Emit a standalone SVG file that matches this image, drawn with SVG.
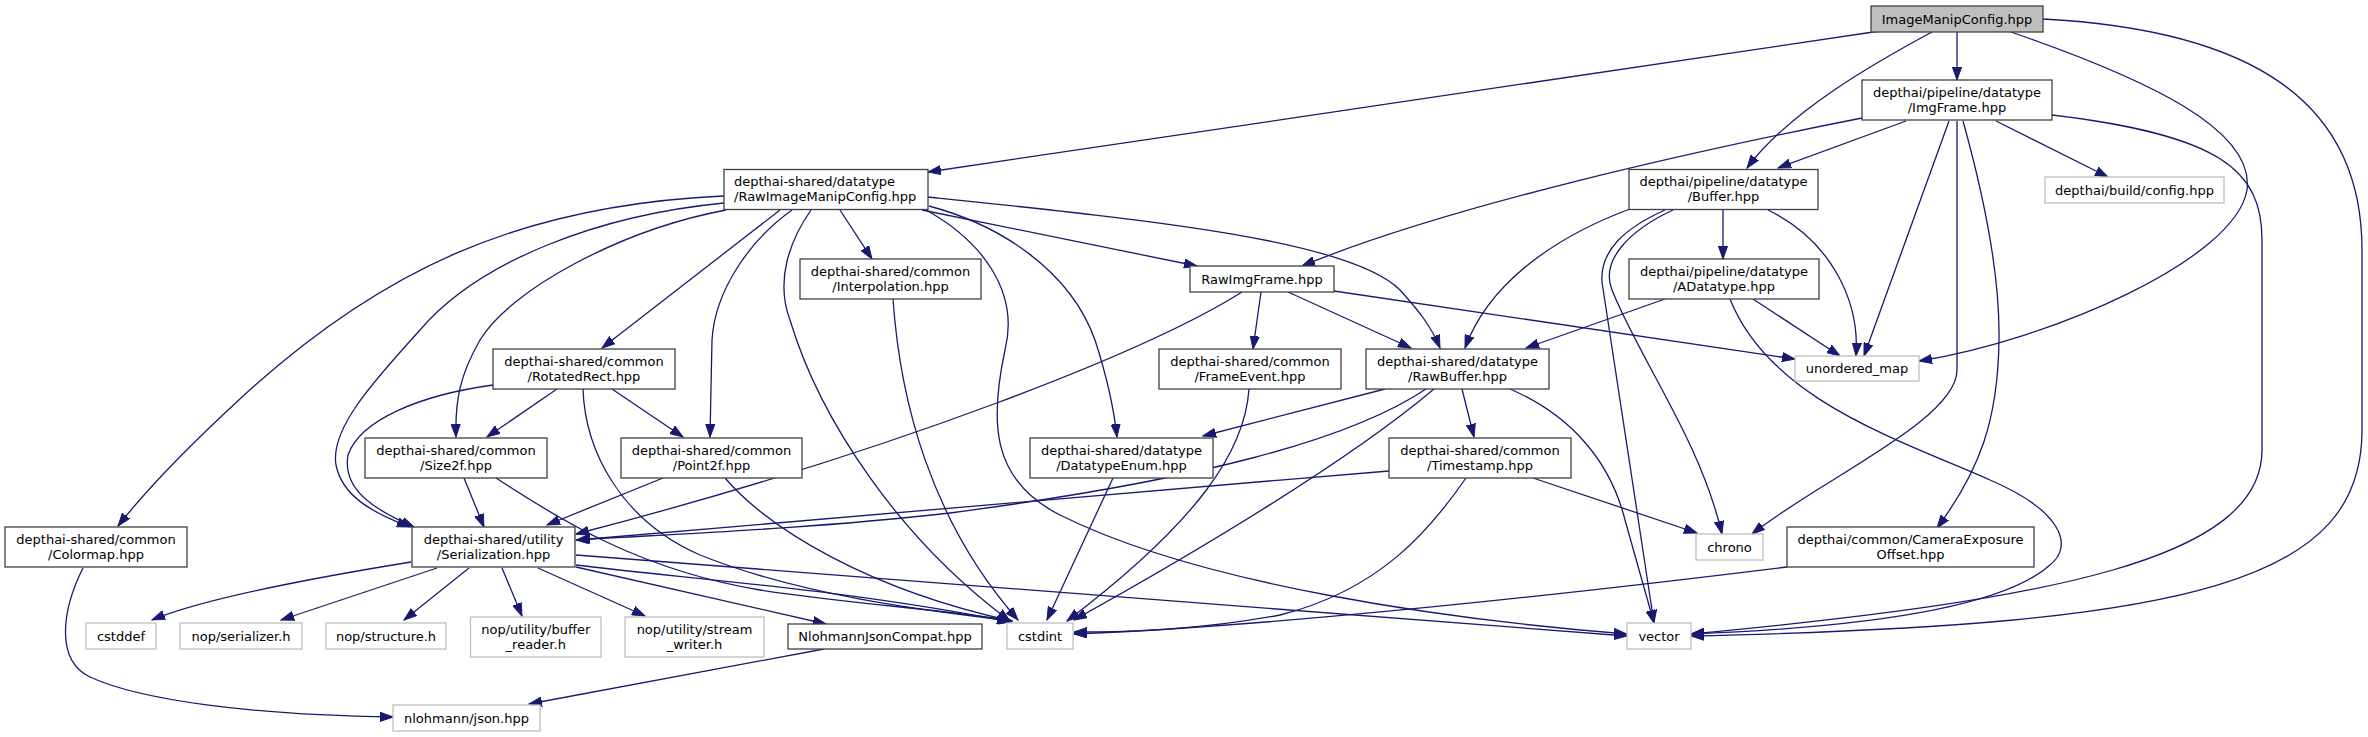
<svg xmlns="http://www.w3.org/2000/svg" width="2368" height="737" viewBox="0 0 2368 737">
<defs>
<style>
rect{fill:#ffffff;stroke:#404040;stroke-width:1.3}
.x rect{stroke:#bfbfbf}
.r rect{fill:#bfbfbf}
text{font-family:"DejaVu Sans","Liberation Sans",sans-serif;font-size:13px;fill:#000;text-anchor:middle}
.l text{text-anchor:start}
#edges path{fill:none;stroke:#191970;stroke-width:1.3;marker-end:url(#a)}
</style>
<marker id="a" markerUnits="userSpaceOnUse" markerWidth="14" markerHeight="10" refX="13" refY="5" orient="auto"><path d="M0,0.4 L13,5 L0,9.6 z" fill="#191970" stroke="#191970" stroke-width="1"/></marker>
</defs>
<rect x="0" y="0" width="2368" height="737" style="fill:#fff;stroke:none"/>
<g id="edges">
<path d="M1880,31 L928,172"/>
<path d="M1957,32 L1957,80"/>
<path d="M1932,32 C1880,60 1790,110 1747,168"/>
<path d="M2011,32 C2150,80 2255,130 2247,190 C2235,260 2050,340 1919,361"/>
<path d="M2043,19 C2250,30 2362,100 2362,250 L2362,430 C2362,580 2200,625 1691,636"/>
<path d="M1862,118 C1700,150 1450,205 1302,266"/>
<path d="M1906,121 L1778,168"/>
<path d="M1996,121 L2108,177"/>
<path d="M1949,121 L1864,356"/>
<path d="M1957,121 L1957,370 C1957,420 1820,480 1752,534"/>
<path d="M1963,121 C1985,200 2000,280 1999,340 C1998,420 1980,470 1937,528"/>
<path d="M2052,115 C2220,135 2262,170 2262,240 L2262,450 C2262,560 2050,600 1691,634"/>
<path d="M1630,209 C1560,235 1490,280 1465,348"/>
<path d="M1723,210 L1723,259"/>
<path d="M1768,210 C1830,240 1860,300 1856,356"/>
<path d="M1673,210 C1630,230 1600,260 1612,290 C1640,360 1700,440 1722,534"/>
<path d="M1665,210 C1625,228 1600,250 1602,282 L1654,623"/>
<path d="M1665,299 L1526,348"/>
<path d="M1753,299 L1840,356"/>
<path d="M1730,299 C1770,400 1900,440 1990,480 C2060,510 2075,545 2050,565 C2000,610 1850,628 1691,634"/>
<path d="M724,196 C520,205 380,270 241,398 C190,445 150,485 118,526"/>
<path d="M724,203 C600,215 480,260 420,330 C370,385 330,430 336,465 C342,495 370,512 410,527"/>
<path d="M726,210 C620,230 510,290 480,340 C460,375 455,400 456,437"/>
<path d="M780,210 L602,348"/>
<path d="M792,210 C750,240 715,290 712,340 L710,437"/>
<path d="M811,210 C790,240 775,280 790,320 C820,420 900,540 1010,621"/>
<path d="M840,210 L872,259"/>
<path d="M922,210 L1197,266"/>
<path d="M929,206 C1000,225 1070,270 1095,340 C1108,380 1114,410 1117,437"/>
<path d="M926,210 C980,240 1020,290 1005,350 C990,420 990,480 1060,515 C1200,585 1450,620 1627,634"/>
<path d="M928,197 C1150,220 1350,240 1400,290 C1420,312 1432,328 1440,348"/>
<path d="M1261,292 L1253,349"/>
<path d="M1242,292 C1150,350 900,450 576,534"/>
<path d="M1288,292 L1411,348"/>
<path d="M1334,291 L1795,359"/>
<path d="M1385,389 L1203,436"/>
<path d="M1426,389 C1350,440 1200,480 950,513 C800,530 650,535 576,540"/>
<path d="M1462,389 L1474,437"/>
<path d="M1434,389 C1350,460 1200,550 1074,620"/>
<path d="M1510,389 C1570,415 1610,460 1625,520 L1654,623"/>
<path d="M493,385 C420,395 360,420 348,455 C342,490 375,510 414,527"/>
<path d="M557,389 L487,437"/>
<path d="M583,389 C585,450 620,520 700,555 C800,595 920,610 1012,621"/>
<path d="M612,389 L683,437"/>
<path d="M464,478 L484,527"/>
<path d="M496,478 C560,520 640,570 760,590 C860,605 950,610 1012,621"/>
<path d="M663,478 L547,525"/>
<path d="M725,478 C770,530 870,590 1012,621"/>
<path d="M893,299 C900,400 930,520 1018,620"/>
<path d="M1113,478 L1047,620"/>
<path d="M1249,389 C1245,450 1200,520 1067,621"/>
<path d="M1389,471 C1100,495 800,520 577,540"/>
<path d="M1533,478 L1697,533"/>
<path d="M1466,478 C1430,530 1380,590 1280,615 C1200,630 1130,632 1074,632"/>
<path d="M1787,567 C1600,590 1300,625 1074,634"/>
<path d="M411,562 C300,580 200,600 152,620"/>
<path d="M437,568 L281,620"/>
<path d="M469,568 L404,620"/>
<path d="M502,568 L522,616"/>
<path d="M538,568 L645,616"/>
<path d="M576,567 L826,624"/>
<path d="M576,565 C700,580 850,590 1010,622"/>
<path d="M576,555 L1627,636"/>
<path d="M83,568 C62,610 55,660 90,677 C140,700 250,715 393,717"/>
<path d="M824,649 L529,704"/>
</g>
<g id="n_imc" class="r"><rect x="1871" y="6" width="172" height="26"/><text x="1957" y="23.5">ImageManipConfig.hpp</text></g>
<g id="n_imgframe"><rect x="1862" y="80" width="190" height="40"/><text x="1957" y="96.5">depthai/pipeline/datatype</text><text x="1957" y="111.5">/ImgFrame.hpp</text></g>
<g id="n_config" class="x"><rect x="2045" y="177" width="179" height="26"/><text x="2134.5" y="194.5">depthai/build/config.hpp</text></g>
<g id="n_rimc" class="l"><rect x="724" y="169.5" width="204" height="40"/><text x="734" y="186">depthai-shared/datatype</text><text x="734" y="201">/RawImageManipConfig.hpp</text></g>
<g id="n_buffer"><rect x="1629" y="169.5" width="189" height="40"/><text x="1723.5" y="186">depthai/pipeline/datatype</text><text x="1723.5" y="201">/Buffer.hpp</text></g>
<g id="n_interp"><rect x="800" y="259" width="181" height="40"/><text x="890.5" y="275.5">depthai-shared/common</text><text x="890.5" y="290.5">/Interpolation.hpp</text></g>
<g id="n_rawimgframe"><rect x="1190" y="266" width="144" height="26"/><text x="1262" y="283.5">RawImgFrame.hpp</text></g>
<g id="n_adatatype"><rect x="1629" y="259" width="190" height="40"/><text x="1724" y="275.5">depthai/pipeline/datatype</text><text x="1724" y="290.5">/ADatatype.hpp</text></g>
<g id="n_frameevent"><rect x="1159" y="349" width="182" height="40"/><text x="1250" y="365.5">depthai-shared/common</text><text x="1250" y="380.5">/FrameEvent.hpp</text></g>
<g id="n_rawbuffer"><rect x="1366" y="349" width="183" height="40"/><text x="1457.5" y="365.5">depthai-shared/datatype</text><text x="1457.5" y="380.5">/RawBuffer.hpp</text></g>
<g id="n_umap" class="x"><rect x="1795" y="356" width="124" height="25"/><text x="1857" y="373">unordered_map</text></g>
<g id="n_rotrect"><rect x="493" y="349" width="182" height="40"/><text x="584" y="365.5">depthai-shared/common</text><text x="584" y="380.5">/RotatedRect.hpp</text></g>
<g id="n_size2f"><rect x="365" y="438" width="182" height="40"/><text x="456" y="454.5">depthai-shared/common</text><text x="456" y="469.5">/Size2f.hpp</text></g>
<g id="n_point2f"><rect x="621" y="438" width="181" height="40"/><text x="711.5" y="454.5">depthai-shared/common</text><text x="711.5" y="469.5">/Point2f.hpp</text></g>
<g id="n_dtenum"><rect x="1030" y="438" width="183" height="40"/><text x="1121.5" y="454.5">depthai-shared/datatype</text><text x="1121.5" y="469.5">/DatatypeEnum.hpp</text></g>
<g id="n_timestamp"><rect x="1389" y="438" width="182" height="40"/><text x="1480" y="454.5">depthai-shared/common</text><text x="1480" y="469.5">/Timestamp.hpp</text></g>
<g id="n_colormap"><rect x="5" y="527" width="182" height="40"/><text x="96" y="543.5">depthai-shared/common</text><text x="96" y="558.5">/Colormap.hpp</text></g>
<g id="n_serial"><rect x="412" y="527" width="163" height="40"/><text x="493.5" y="543.5">depthai-shared/utility</text><text x="493.5" y="558.5">/Serialization.hpp</text></g>
<g id="n_chrono" class="x"><rect x="1696" y="534" width="67" height="26"/><text x="1729.5" y="551.5">chrono</text></g>
<g id="n_camexp"><rect x="1787" y="527" width="247" height="40"/><text x="1910.5" y="543.5">depthai/common/CameraExposure</text><text x="1910.5" y="558.5">Offset.hpp</text></g>
<g id="n_cstddef" class="x"><rect x="86" y="623" width="70" height="26"/><text x="121" y="640.5">cstddef</text></g>
<g id="n_nopser" class="x"><rect x="180" y="623" width="122" height="26"/><text x="241" y="640.5">nop/serializer.h</text></g>
<g id="n_nopstruct" class="x"><rect x="326" y="623" width="120" height="26"/><text x="386" y="640.5">nop/structure.h</text></g>
<g id="n_bufreader" class="x"><rect x="470.5" y="617" width="130.5" height="40"/><text x="535.75" y="633.5">nop/utility/buffer</text><text x="535.75" y="648.5">_reader.h</text></g>
<g id="n_streamwriter" class="x"><rect x="625" y="617" width="139" height="40"/><text x="694.5" y="633.5">nop/utility/stream</text><text x="694.5" y="648.5">_writer.h</text></g>
<g id="n_njcompat"><rect x="788" y="624" width="194" height="25"/><text x="885" y="641">NlohmannJsonCompat.hpp</text></g>
<g id="n_cstdint" class="x"><rect x="1007" y="623" width="66" height="26"/><text x="1040" y="640.5">cstdint</text></g>
<g id="n_vector" class="x"><rect x="1627" y="623" width="64" height="26"/><text x="1659" y="640.5">vector</text></g>
<g id="n_json" class="x"><rect x="393" y="705" width="147" height="26"/><text x="466.5" y="722.5">nlohmann/json.hpp</text></g>
</svg>
